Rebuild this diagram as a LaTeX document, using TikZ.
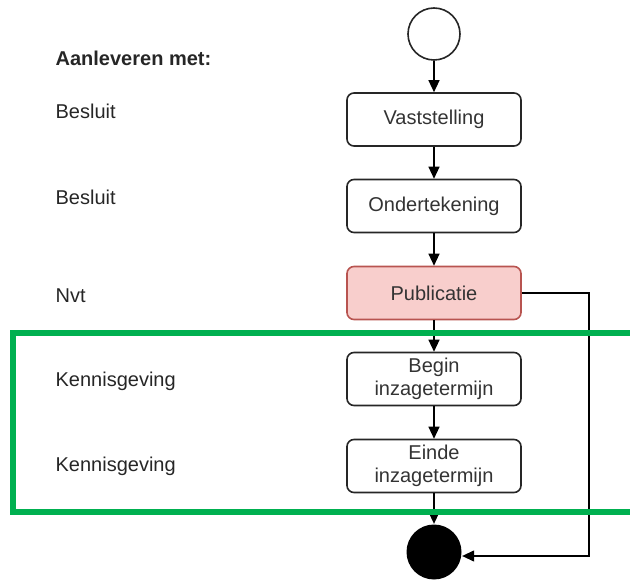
\documentclass[tikz,border=0pt]{standalone}
\usepackage{fontspec}
\setmainfont{Liberation Sans}
\usetikzlibrary{arrows.meta}
\definecolor{pubfill}{HTML}{F8CECC}
\definecolor{pubdraw}{HTML}{B85450}
\definecolor{kader}{HTML}{00B050}
\begin{document}
\begin{tikzpicture}[x=1pt,y=-1pt,>={Triangle[length=12pt,width=11pt]},line width=1.3pt,
	font=\fontsize{20}{23}\selectfont,
	stap/.style={rectangle, rounded corners=7pt, draw=black!85, line width=1.6pt, minimum width=174pt, minimum height=53pt, align=center, text=black!80},
	kolom/.style={anchor=west, inner sep=0pt, text=black!85}]
	\useasboundingbox (0,0) rectangle (630,580);
	\node (start) at (434, 34)	[circle, draw=black!85, line width=1.6pt, minimum size=52pt, inner sep=0pt]	{};
	\node (V) at (434, 119.5)	[stap]	{Vaststelling};
	\node (O) at (434, 206)	[stap]	{Ondertekening};
	\node (P) at (434, 293)	[stap, fill=pubfill, draw=pubdraw]	{Publicatie};
	\node (B) at (434, 379)	[stap]	{Begin\\inzagetermijn};
	\node (E) at (434, 466)	[stap]	{Einde\\inzagetermijn};
	\node (eind) at (434, 552)	[circle, fill=black, minimum size=55pt, inner sep=0pt]	{};
	\coordinate (hoek) at (589, 556);
	\node (a0) at (55, 58)	[kolom, font=\fontsize{20}{23}\selectfont\bfseries]	{Aanleveren met:};
	\node (a1) at (55, 111)	[kolom]	{Besluit};
	\node (a2) at (55, 197)	[kolom]	{Besluit};
	\node (a3) at (55, 296)	[kolom]	{Nvt};
	\node (a4) at (55, 381)	[kolom]	{Kennisgeving};
	\node (a5) at (55, 466)	[kolom]	{Kennisgeving};
	\draw[->] (start) -- (V);
	\draw[->] (V) -- (O);
	\draw[->] (O) -- (P);
	\draw[->] (P) -- (B);
	\draw[->] (B) -- (E);
	\draw[->] (E) -- (eind);
	\draw[->] (P.east) -| (hoek) -- (hoek -| eind.east);
	\draw[kader, line width=6pt] (13, 333) rectangle (645, 512);
\end{tikzpicture}
\end{document}
